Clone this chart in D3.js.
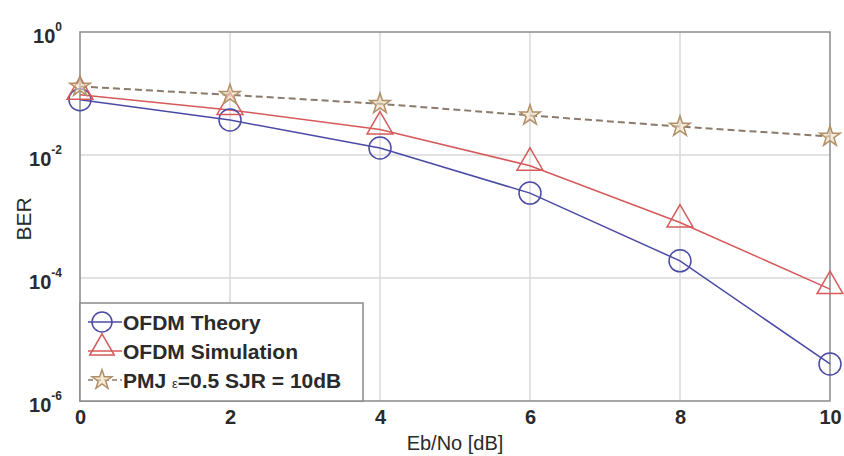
<!DOCTYPE html>
<html><head><meta charset="utf-8">
<script src="https://cdn.jsdelivr.net/npm/d3@7"></script>
<style>body{margin:0;background:#fff}svg{display:block}text{font-family:"Liberation Sans",Arial,sans-serif;font-weight:bold;fill:#2a2a2a}</style>
</head><body>
<svg id="c" width="844" height="456"></svg>
<script>
const ebno = [0, 2, 4, 6, 8, 10];
const theory = [0.079, 0.037, 0.013, 0.0024, 1.9e-4, 4.0e-6];
const simulation = [0.095, 0.054, 0.026, 0.0067, 8.0e-4, 6.6e-5];
const pmj = [0.13, 0.095, 0.068, 0.044, 0.029, 0.020];
const xTicks = [0, 2, 4, 6, 8, 10];
const yTickExps = [0, -2, -4, -6];
const seriesNames = ["OFDM Theory", "OFDM Simulation", "PMJ \u03B5=0.5 SJR = 10dB"];

const svg = d3.select("#c");
const L = 80, R = 830, T = 32, B = 401;
const x = d3.scaleLinear().domain([0, 10]).range([L, R]);
const y = d3.scaleLog().domain([1e-6, 1]).range([B, T]);

// grid
const g = svg.append("g");
g.selectAll(".gx").data(xTicks.slice(1, -1)).enter().append("line")
  .attr("x1", d => x(d)).attr("x2", d => x(d)).attr("y1", T).attr("y2", B)
  .attr("stroke", "#d8d8d8").attr("stroke-width", 1.5);
g.selectAll(".gy").data(yTickExps.slice(1, -1)).enter().append("line")
  .attr("x1", L).attr("x2", R).attr("y1", d => y(Math.pow(10, d))).attr("y2", d => y(Math.pow(10, d)))
  .attr("stroke", "#d8d8d8").attr("stroke-width", 1.5);

// axes
const xAxis = d3.axisBottom(x).tickValues(xTicks).tickSize(0).tickPadding(9).tickFormat(d3.format("d"));
const xa = svg.append("g").attr("transform", `translate(0,${B})`).call(xAxis);
xa.select(".domain").remove();
xa.selectAll("text").attr("font-size", 20).attr("fill", "#2a2a2a").style("font-weight", "bold");

const yAxis = d3.axisLeft(y).tickValues(yTickExps.map(e => Math.pow(10, e))).tickSize(0).tickPadding(12).tickFormat("");
const ya = svg.append("g").attr("transform", `translate(${L},0)`).call(yAxis);
ya.select(".domain").remove();
ya.selectAll(".tick").each(function(d) {
  const e = Math.round(Math.log10(d));
  const t = d3.select(this).select("text").attr("font-size", 20).attr("dy", "0.5em").attr("x", -18).attr("fill", "#2a2a2a");
  t.append("tspan").text("10");
  t.append("tspan").attr("font-size", 12).attr("dy", "-0.95em").text(e === 0 ? "0" : String(e));
});

// plot box
svg.append("rect").attr("x", L).attr("y", T).attr("width", R - L).attr("height", B - T)
  .attr("fill", "none").attr("stroke", "#8a8a8a").attr("stroke-width", 1.5);

const blue = "#4a4aa6", red = "#d65a5a", starC = "#b09068", dashC = "#8a7a6a";

const line = d3.line().x((d, i) => x(ebno[i])).y(d => y(d));
svg.append("path").datum(theory).attr("d", line).attr("fill", "none").attr("stroke", blue).attr("stroke-width", 1.5);
svg.append("path").datum(simulation).attr("d", line).attr("fill", "none").attr("stroke", red).attr("stroke-width", 1.5);
svg.append("path").datum(pmj).attr("d", line).attr("fill", "none").attr("stroke", dashC).attr("stroke-width", 2).attr("stroke-dasharray", "7,4");

const circ = d3.symbol().type(d3.symbolCircle).size(Math.PI * 11 * 11);
const tri = d3.symbol().type(d3.symbolTriangle).size(290);
const star = d3.symbol().type(d3.symbolStar).size(130);

svg.selectAll(".mc").data(theory).enter().append("path").attr("d", circ)
  .attr("transform", (d, i) => `translate(${x(ebno[i])},${y(d)})`)
  .attr("fill", "none").attr("stroke", blue).attr("stroke-width", 1.5);
svg.selectAll(".mt").data(simulation).enter().append("path").attr("d", tri)
  .attr("transform", (d, i) => `translate(${x(ebno[i])},${y(d) - 3})`)
  .attr("fill", "none").attr("stroke", red).attr("stroke-width", 1.5);
svg.selectAll(".ms").data(pmj).enter().append("path").attr("d", star)
  .attr("transform", (d, i) => `translate(${x(ebno[i])},${y(d)})`)
  .attr("fill", "#f0dcc0").attr("fill-opacity", 0.6).attr("stroke", starC).attr("stroke-width", 1.5);

// legend
const lg = svg.append("g");
const lx = L, ly = 303, lw = 283, lh = B - 303;
lg.append("rect").attr("x", lx).attr("y", ly).attr("width", lw).attr("height", lh)
  .attr("fill", "#fff").attr("stroke", "#8a8a8a").attr("stroke-width", 1.5);
const rows = [
  {name: seriesNames[0], color: blue, sym: d3.symbol().type(d3.symbolCircle).size(Math.PI * 10 * 10), dash: null, fill: "none", lc: blue},
  {name: seriesNames[1], color: red, sym: d3.symbol().type(d3.symbolTriangle).size(260), dash: null, fill: "none", lc: red},
  {name: seriesNames[2], color: starC, sym: d3.symbol().type(d3.symbolStar).size(120), dash: "5,3", fill: "#f0dcc0", lc: dashC}
];
rows.forEach((r, i) => {
  const cy = ly + 19 + i * 29;
  lg.append("line").attr("x1", lx + 8).attr("x2", lx + 42).attr("y1", cy).attr("y2", cy)
    .attr("stroke", r.lc).attr("stroke-width", 1.5).attr("stroke-dasharray", r.dash);
  lg.append("path").attr("d", r.sym())
    .attr("transform", `translate(${lx + 22},${cy - (i === 1 ? 3 : 0)})`)
    .attr("fill", r.fill).attr("fill-opacity", 0.6).attr("stroke", r.color).attr("stroke-width", 1.5);
  const t = lg.append("text").attr("x", lx + 43).attr("y", cy).attr("dy", "0.36em").attr("font-size", 21);
  if (i === 2) {
    t.append("tspan").text("PMJ ");
    t.append("tspan").attr("font-size", 13).style("font-weight", "normal").text("\u03B5");
    t.append("tspan").text("=0.5 SJR = 10dB");
  } else {
    t.text(r.name);
  }
});

// axis labels
svg.append("text").attr("x", 455).attr("y", 450).attr("text-anchor", "middle")
  .attr("font-size", 20).style("font-weight", "normal").text("Eb/No [dB]");
svg.append("text").attr("transform", `translate(31,${219}) rotate(-90)`).attr("text-anchor", "middle")
  .attr("font-size", 21).style("font-weight", "normal").text("BER");
</script>
</body></html>
